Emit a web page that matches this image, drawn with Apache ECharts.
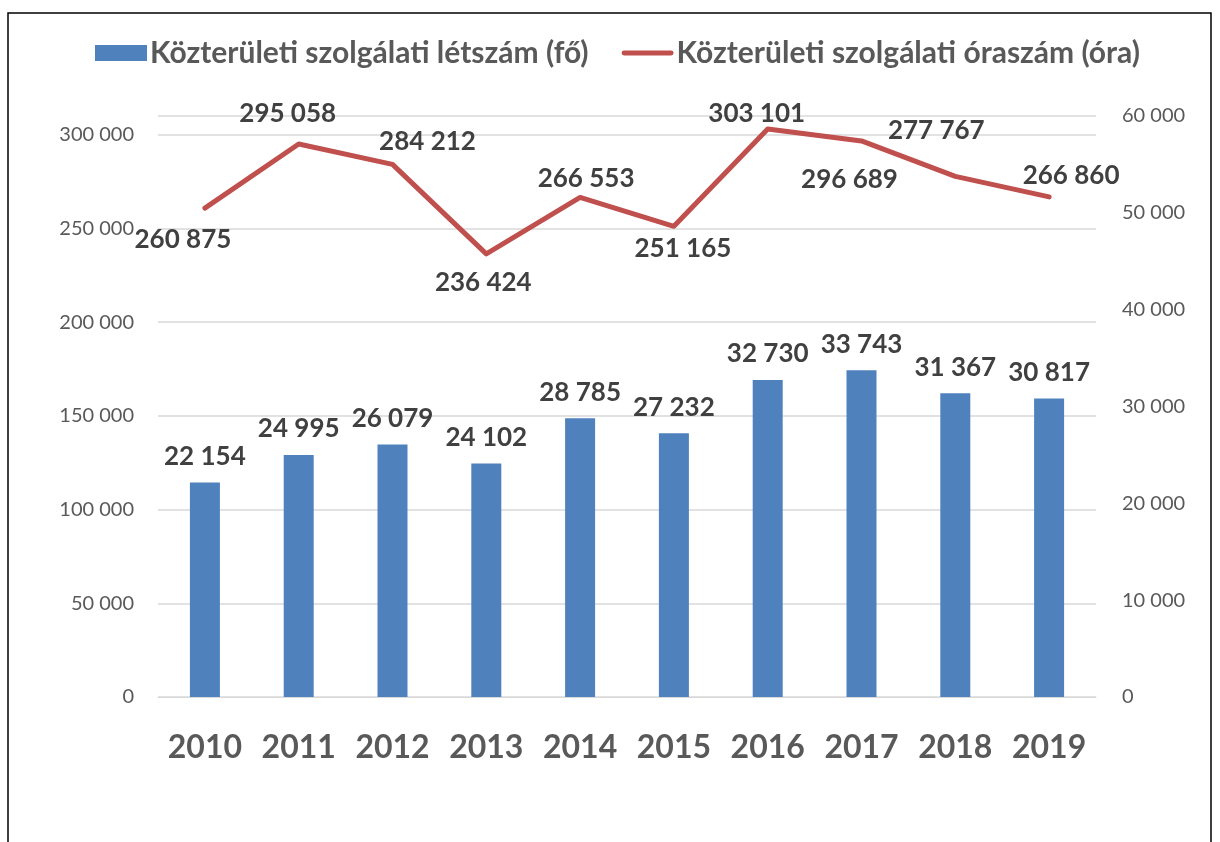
<!DOCTYPE html>
<html>
<head>
<meta charset="utf-8">
<script src="https://cdn.jsdelivr.net/npm/echarts@6/dist/echarts.min.js"></script>
<style>
  html, body { margin: 0; padding: 0; background: #fff; }
  #chart { width: 1220px; height: 842px; }
</style>
</head>
<body>
<div id="chart"></div>
<script>
// years on the x axis
const years = ['2010', '2011', '2012', '2013', '2014', '2015', '2016', '2017', '2018', '2019']
// bars, right axis
const letszam = [22154, 24995, 26079, 24102, 28785, 27232, 32730, 33743, 31367, 30817]
// line, left axis
const oraszam = [260875, 295058, 284212, 236424, 266553, 251165, 303101, 296689, 277767, 266860]

const barName = 'Közterületi szolgálati létszám (fő)'
const lineName = 'Közterületi szolgálati óraszám (óra)'

// where each line label sits, relative to its point (px)
const lineLabelShift = [[-22, 32], [-11, -30], [35, -23], [-3, 29], [6, -19],
  [9, 22], [-11, -15], [-12, 39], [-19, -46], [22, -21]]

const fmt = v => String(v).replace(/\B(?=(\d{3})+(?!\d))/g, ' ')
const font = 'Lato, "Open Sans", sans-serif'

const chart = echarts.init(document.getElementById('chart'), null, { renderer: 'canvas' })

chart.setOption({
  animation: false,
  textStyle: { fontFamily: font },
  graphic: [{
    type: 'rect',
    shape: { x: 8, y: 13, width: 1203, height: 840 },
    style: { fill: 'none', stroke: '#000', lineWidth: 1.5 },
    silent: true
  }],
  legend: {
    top: 33,
    left: 90,
    itemWidth: 52,
    itemHeight: 16,
    itemGap: 33,
    textStyle: { fontFamily: font, fontSize: 30, fontWeight: 'bold', color: '#595959', padding: [0, 0, 0, -2] },
    data: [
      { name: barName, icon: 'rect' },
      { name: lineName, icon: 'path://M2,5.5 L50,5.5 A2.5,2.5 0 0 1 50,10.5 L2,10.5 A2.5,2.5 0 0 1 2,5.5 Z' }
    ]
  },
  grid: { left: 158, right: 124, top: 116, bottom: 145, containLabel: false },
  xAxis: {
    type: 'category',
    data: years,
    axisLine: { show: true, lineStyle: { color: '#d9d9d9' } },
    axisTick: { show: false },
    axisLabel: { interval: 0, fontSize: 32, fontWeight: 'bold', color: '#595959', margin: 35, fontFamily: font }
  },
  yAxis: [
    {
      type: 'value',
      min: 0,
      max: 310000,
      interval: 50000,
      splitLine: { lineStyle: { color: '#d9d9d9', width: 1.5 } },
      axisLine: { show: false },
      axisTick: { show: false },
      axisLabel: {
        fontSize: 20, color: '#595959', margin: 24, fontFamily: font,
        showMaxLabel: false,
        formatter: v => v > 300000 ? '' : fmt(v)
      }
    },
    {
      type: 'value',
      min: 0,
      max: 60000,
      interval: 10000,
      splitLine: { show: false },
      axisLine: { show: false },
      axisTick: { show: false },
      axisLabel: { fontSize: 20, color: '#595959', margin: 26, fontFamily: font, formatter: fmt }
    }
  ],
  series: [
    {
      name: barName,
      type: 'bar',
      yAxisIndex: 1,
      data: letszam,
      barWidth: 30,
      itemStyle: { color: '#4f81bd' },
      label: {
        show: true,
        position: 'top',
        distance: 13,
        fontSize: 26,
        fontWeight: 'bold',
        color: '#404040',
        fontFamily: font,
        formatter: p => fmt(p.value)
      },
      z: 2
    },
    {
      name: lineName,
      type: 'line',
      yAxisIndex: 0,
      symbol: 'circle',
      symbolSize: 1,
      itemStyle: { color: '#c0504d' },
      lineStyle: { color: '#c0504d', width: 5, cap: 'round', join: 'round' },
      data: oraszam.map((v, i) => ({
        value: v,
        label: { offset: lineLabelShift[i] }
      })),
      label: {
        show: true,
        position: 'inside',
        align: 'center',
        verticalAlign: 'middle',
        fontSize: 26,
        fontWeight: 'bold',
        color: '#404040',
        fontFamily: font,
        formatter: p => fmt(p.value)
      },
      z: 3
    }
  ]
})
</script>
</body>
</html>
